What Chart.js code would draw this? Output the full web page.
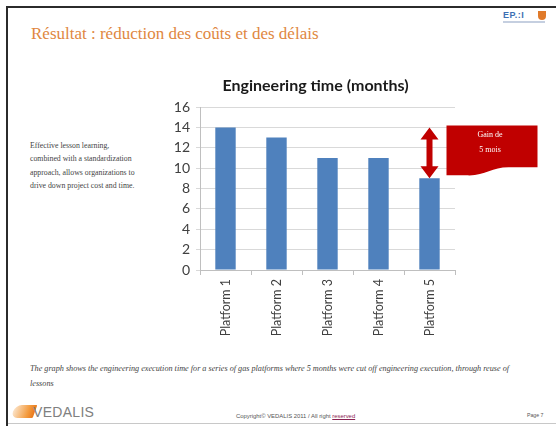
<!DOCTYPE html>
<html>
<head>
<meta charset="utf-8">
<script src="https://cdn.jsdelivr.net/npm/chart.js@4/dist/chart.umd.min.js"></script>
<style>
  html, body { margin: 0; padding: 0; background: #fff; }
  #slide { position: relative; width: 556px; height: 426px; overflow: hidden; background: #fff; }
  .abs { position: absolute; }
  #frameTop { left: 7px; top: 6px; width: 549px; height: 2px; background: #2b2b2b; }
  #frameLeft { left: 6px; top: 6px; width: 2px; height: 420px; background: #2b2b2b; }
  #frameBottom { left: 8px; top: 423px; width: 548px; height: 1px; background: #c8c8c8; }
  #heading { left: 31px; top: 24px; font: 17px "Liberation Serif", serif; color: #e0873f; white-space: nowrap; }
  #side { left: 30px; top: 139px; font: 7.8px "Liberation Serif", serif; color: #444; line-height: 13.3px; white-space: nowrap; }
  #caption { left: 30px; top: 362px; font: italic 8.2px "Liberation Serif", serif; color: #444; line-height: 14.5px; white-space: nowrap; }
  #logoText { left: 33px; top: 404px; font: 14px "Liberation Sans", sans-serif; color: #808080; letter-spacing: 0.3px; }
  #copy { left: 236px; top: 413px; font: 5.9px "Liberation Sans", sans-serif; color: #555; white-space: nowrap; }
  #page { left: 527px; top: 412px; font: 5.2px "Liberation Sans", sans-serif; color: #555; }
  #pmi { left: 503px; top: 10px; font: bold 9px "Liberation Sans", sans-serif; color: #3d6fb3; letter-spacing: 0.5px; }
  #pmiSub { left: 503px; top: 21px; width: 42px; height: 2px; background: #c5cfe0; }
  #shield { left: 538px; top: 11px; width: 8px; height: 9px; background: #e07a2a; border-radius: 0 0 4px 4px; }
  #swoosh { left: 13px; top: 405px; width: 22px; height: 13px; background: linear-gradient(90deg, #fbe3c8, #f39a3c 70%, #e9781c); border-radius: 12px 2px 2px 12px; transform: skewX(-20deg); }
  #chartBox { left: 150px; top: 70px; width: 390px; height: 275px; }
</style>
</head>
<body>
<div id="slide">
  <div class="abs" id="frameTop"></div>
  <div class="abs" id="frameLeft"></div>
  <div class="abs" id="frameBottom"></div>
  <div class="abs" id="heading">Résultat : réduction des coûts et des délais</div>
  <div class="abs" id="pmi">EP.:I</div>
  <div class="abs" id="pmiSub"></div>
  <div class="abs" id="shield"></div>
  <div class="abs" id="side">Effective lesson learning,<br>combined with a standardization<br>approach, allows organizations to<br>drive down project cost and time.</div>
  <div class="abs" id="caption">The graph shows the engineering execution time for a series of gas platforms where 5 months were cut off engineering execution, through reuse of<br>lessons</div>
  <div class="abs" id="swoosh"></div>
  <div class="abs" id="logoText">VEDALIS</div>
  <div class="abs" id="copy">Copyright© VEDALIS 2011 / All right <span style="text-decoration: underline; color:#8b2252">reserved</span></div>
  <div class="abs" id="page">Page 7</div>
  <div class="abs" id="chartBox"><canvas id="engChart"></canvas></div>
</div>
<script>
// Données du graphique
const chartTitle = "Engineering time (months)";
const platforms = ["Platform 1", "Platform 2", "Platform 3", "Platform 4", "Platform 5"];
const months = [14, 13, 11, 11, 9];
const yTicks = [0, 2, 4, 6, 8, 10, 12, 14, 16];
const gainFromTo = [14, 9];
const gainIndex = 4;
const gainLabel = ["Gain de", "5 mois"];

const RED = "#c00000";

// Titre + flèche + bulle "Gain de 5 mois"
const gainPlugin = {
  id: "gain",
  afterDraw(chart) {
    const { ctx, chartArea, scales: { x, y } } = chart;
    ctx.save();
    // titre (décalé comme dans l'original)
    ctx.fillStyle = "#1a1a1a";
    ctx.font = "bold 16px Lato";
    ctx.textAlign = "center";
    ctx.textBaseline = "middle";
    ctx.fillText(chartTitle, (chartArea.left + chartArea.right) / 2 - 12, chartArea.top - 21);

    const ax = x.getPixelForValue(gainIndex);
    const yTop = y.getPixelForValue(gainFromTo[0]);
    const yBot = y.getPixelForValue(gainFromTo[1]);
    ctx.fillStyle = RED;
    // flèche double
    const head = 12, hw = 9, sw = 3;
    ctx.beginPath();
    ctx.moveTo(ax, yTop);
    ctx.lineTo(ax + hw, yTop + head);
    ctx.lineTo(ax + sw, yTop + head);
    ctx.lineTo(ax + sw, yBot - head);
    ctx.lineTo(ax + hw, yBot - head);
    ctx.lineTo(ax, yBot);
    ctx.lineTo(ax - hw, yBot - head);
    ctx.lineTo(ax - sw, yBot - head);
    ctx.lineTo(ax - sw, yTop + head);
    ctx.lineTo(ax - hw, yTop + head);
    ctx.closePath();
    ctx.fill();
    // bulle
    const l = ax + 17, r = ax + 108, t = yTop - 2;
    const bL = yBot - 3, bR = yBot - 11;
    ctx.beginPath();
    ctx.moveTo(l, t);
    ctx.lineTo(r, t);
    ctx.lineTo(r, bR);
    ctx.lineTo(l + 62, bR);
    ctx.bezierCurveTo(l + 45, bR, l + 38, bL + 1, l + 20, bL);
    ctx.lineTo(l, bL);
    ctx.closePath();
    ctx.fill();
    ctx.fillStyle = "#fff";
    ctx.font = "8px 'Liberation Serif', serif";
    const cx = (l + r) / 2 - 2;
    ctx.fillText(gainLabel[0], cx, t + 10);
    ctx.fillText(gainLabel[1], cx, t + 25);
    ctx.restore();
  }
};

new Chart(document.getElementById("engChart"), {
  type: "bar",
  data: {
    labels: platforms,
    datasets: [{
      label: chartTitle,
      data: months,
      backgroundColor: "#4f81bd",
      barPercentage: 0.4,
      categoryPercentage: 1
    }]
  },
  options: {
    responsive: true,
    maintainAspectRatio: false,
    animation: false,
    layout: { padding: { right: 85, top: 37 } },
    plugins: {
      legend: { display: false },
      tooltip: { enabled: false },
      title: { display: false }
    },
    scales: {
      x: {
        afterFit: s => { s.height = 75; },
        grid: { offset: true, drawOnChartArea: false, tickLength: 5, color: "#bfbfbf" },
        border: { color: "#bfbfbf" },
        ticks: {
          autoSkip: false, maxRotation: 90, minRotation: 90, padding: 4,
          color: "#404040", font: { family: "Lato", size: 12.5 }
        }
      },
      y: {
        min: 0, max: 16,
        afterFit: s => { s.width = 50; },
        afterBuildTicks: s => { s.ticks = yTicks.map(v => ({ value: v })); },
        grid: { color: "#d9d9d9", tickLength: 4 },
        border: { color: "#bfbfbf" },
        ticks: { padding: 6, color: "#404040", font: { family: "Lato", size: 14 } }
      }
    }
  },
  plugins: [gainPlugin]
});
</script>
</body>
</html>
